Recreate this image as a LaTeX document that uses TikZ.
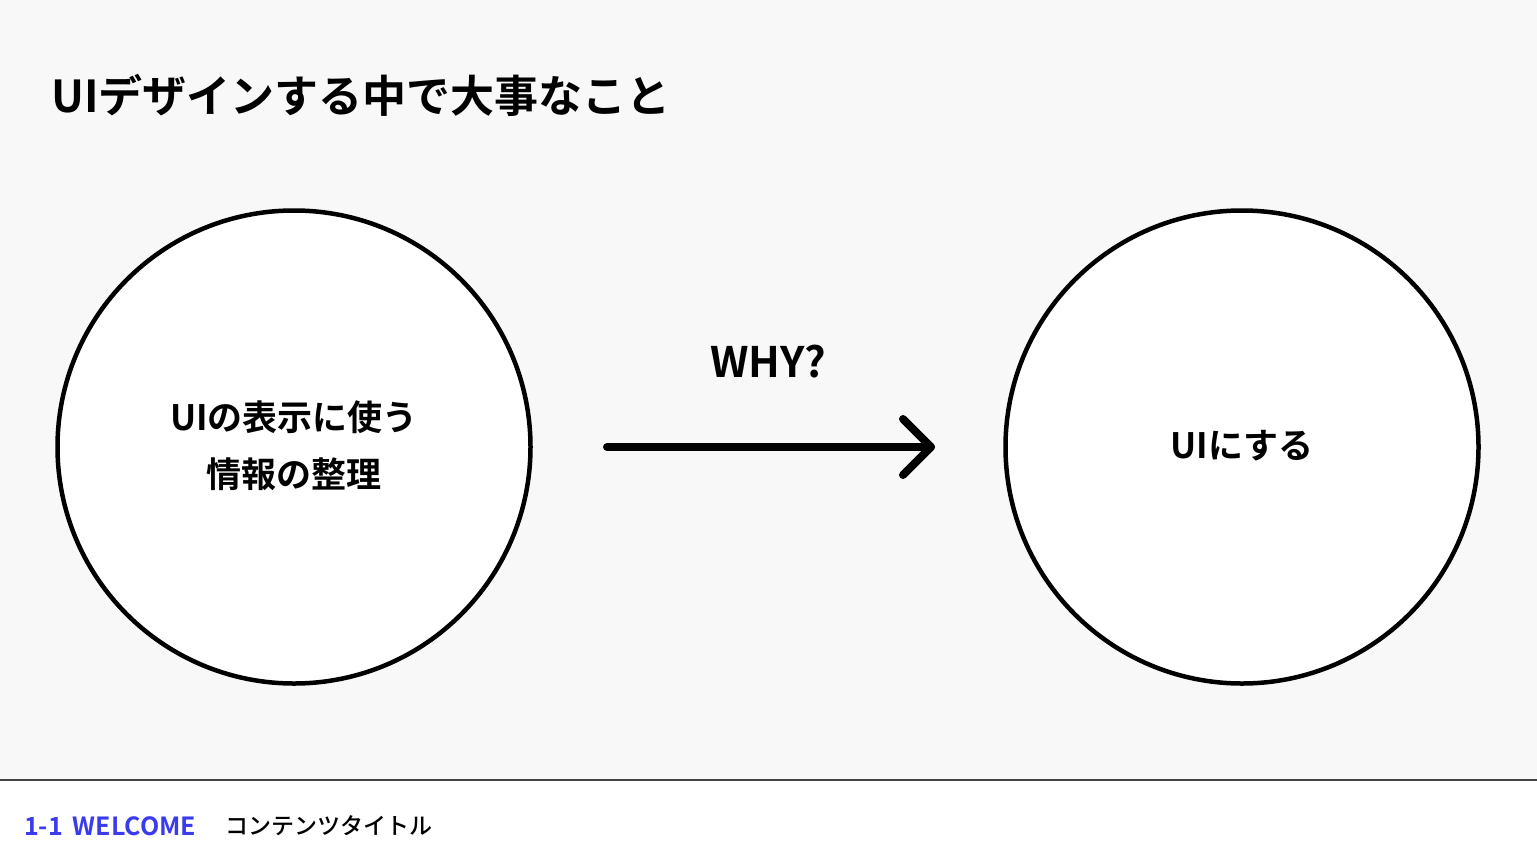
\documentclass[tikz,border=0pt]{standalone}
\usepackage{fontspec}
\newfontfamily\jpb{Noto Sans CJK JP Bold}
\newfontfamily\jpm{Noto Sans CJK JP Medium}
\definecolor{bgc}{HTML}{F8F8F8}
\definecolor{footblue}{HTML}{3B3BEE}
\definecolor{rulec}{HTML}{444444}
\begin{document}
\begin{tikzpicture}[x=1pt,y=-1pt,
  circ/.style={circle,draw=black,line width=4.5pt,fill=white,minimum size=473pt,inner sep=0pt},
  ctext/.style={font=\jpb\fontsize{35}{57}\selectfont,align=center,text=black},
  stroke/.style={line width=8pt,line cap=round,line join=round}]
\useasboundingbox (0,0) rectangle (1537,865);
\fill[bgc] (0,0) rectangle (1537,780);
\fill[white] (0,780) rectangle (1537,865);
\draw[rulec,line width=1.2pt] (0,780) -- (1537,780);
\node[anchor=west,font=\jpb\fontsize{44}{50}\selectfont,inner sep=0pt] (title) at (51,95) {UIデザインする中で大事なこと};
\node[circ] (left) at (294,447) {};
\node[circ] (right) at (1242,447) {};
\node[ctext] (ltext) at (294,446) {UIの表示に使う\\情報の整理};
\node[ctext] (rtext) at (1242,446) {UIにする};
\node[font=\jpb\fontsize{42}{46}\selectfont,inner sep=0pt] (why) at (768,362) {WHY?};
\coordinate (as) at (607,447);
\coordinate (ae) at (931,447);
\draw[stroke] (as) -- (ae);
\draw[stroke] (903,419) -- (ae) -- (903,475);
\node[anchor=west,font=\jpb\fontsize{25}{28}\selectfont,text=footblue,inner sep=0pt] (sec) at (24,826) {1-1\hspace{0.4em}WELCOME};
\node[anchor=west,font=\jpm\fontsize{23}{26}\selectfont,inner sep=0pt] (ctitle) at (225,826) {コンテンツタイトル};
\end{tikzpicture}
\end{document}
